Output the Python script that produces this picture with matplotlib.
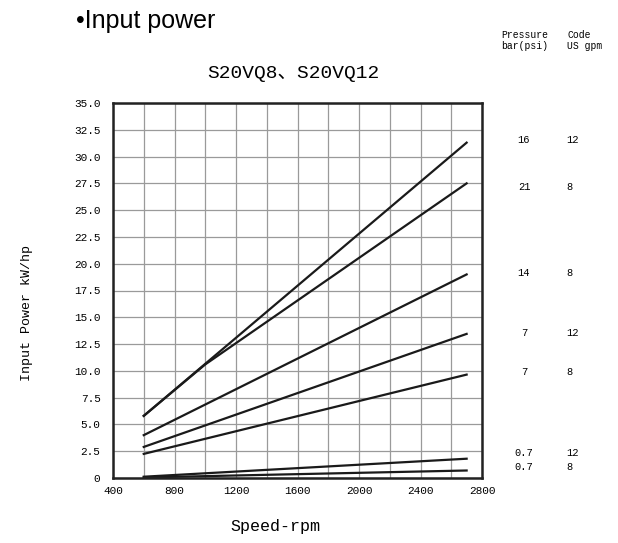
import matplotlib
matplotlib.use("Agg")
import matplotlib.pyplot as plt
import numpy as np

# Data
speed_2pt = [600, 2700]
speed_3pt = [600, 1000, 2700]
p16_q12 = [5.8, 31.3]
p21_q8 = [5.8, 10.6, 27.5]
p14_q8 = [4.0, 19.0]
p7_q12 = [2.9, 13.45]
p7_q8 = [2.25, 9.65]
p07_q12 = [0.12, 1.8]
p07_q8 = [0.05, 0.7]

pressure_labels = ["16", "21", "14", "7", "7", "0.7", "0.7"]
code_labels = ["12", "8", "8", "12", "8", "12", "8"]

x_ticks = [400, 800, 1200, 1600, 2000, 2400, 2800]
y_ticks = [0, 2.5, 5, 7.5, 10, 12.5, 15, 17.5, 20, 22.5, 25, 27.5, 30, 32.5, 35]
y_ticklabels = ["0"] + ["%.1f" % v for v in y_ticks[1:]]

mono = ["Liberation Mono", "DejaVu Sans Mono"]
title_font = ["Liberation Mono", "Noto Sans CJK SC"]

fig = plt.figure(figsize=(6.18, 5.43), dpi=100)
ax = fig.add_axes([113/618, 1-478/543, (482-113)/618, (478-103)/543])

ax.set_xlim(400, 2800)
ax.set_ylim(0, 35)
ax.set_xticks(x_ticks)
ax.set_xticklabels([str(v) for v in x_ticks], family=mono, fontsize=8)
ax.set_xticks(np.arange(400, 2801, 200), minor=True)
ax.set_yticks(y_ticks)
ax.set_yticklabels(y_ticklabels, family=mono, fontsize=8)
ax.grid(True, which="both", color="#9a9a9a", linewidth=0.9)
ax.tick_params(which="both", length=0, pad=6)
ax.tick_params(axis="y", pad=9)
for s in ax.spines.values():
    s.set_linewidth(1.8)
    s.set_color("#222222")

lw = 1.6
ax.plot(speed_2pt, p16_q12, color="#1a1a1a", lw=lw)
ax.plot(speed_3pt, p21_q8, color="#1a1a1a", lw=lw)
ax.plot(speed_2pt, p14_q8, color="#1a1a1a", lw=lw)
ax.plot(speed_2pt, p7_q12, color="#1a1a1a", lw=lw)
ax.plot(speed_2pt, p7_q8, color="#1a1a1a", lw=lw)
ax.plot(speed_2pt, p07_q12, color="#1a1a1a", lw=lw)
ax.plot(speed_2pt, p07_q8, color="#1a1a1a", lw=lw)

# Right-hand table
fig.text(501/618, 1-35/543, "Pressure", family=mono, fontsize=7, ha="left", va="center")
fig.text(501/618, 1-46/543, "bar(psi)", family=mono, fontsize=7, ha="left", va="center")
fig.text(567/618, 1-35/543, "Code", family=mono, fontsize=7, ha="left", va="center")
fig.text(567/618, 1-46/543, "US gpm", family=mono, fontsize=7, ha="left", va="center")
label_py = [140, 187, 273, 333, 372, 453, 467]
for pl, cl, py in zip(pressure_labels, code_labels, label_py):
    fig.text(524/618, 1-py/543, pl, family=mono, fontsize=7.5, ha="center", va="center")
    fig.text(566/618, 1-py/543, cl, family=mono, fontsize=7.5, ha="left", va="center")

fig.text(76/618, 1-21/543, "\u2022Input power", family=["Liberation Sans", "DejaVu Sans"],
         fontsize=18, ha="left", va="center")
fig.text(293/618, 1-73/543, "S20VQ8\u3001S20VQ12", family=title_font,
         fontsize=14, ha="center", va="center")
fig.text(275/618, 1-526/543, "Speed-rpm", family=mono, fontsize=12, ha="center", va="center")
fig.text(27/618, 1-313/543, "Input Power kW/hp", family=mono, fontsize=9.5,
         rotation=90, ha="center", va="center")

fig.savefig("out.png", dpi=100)
